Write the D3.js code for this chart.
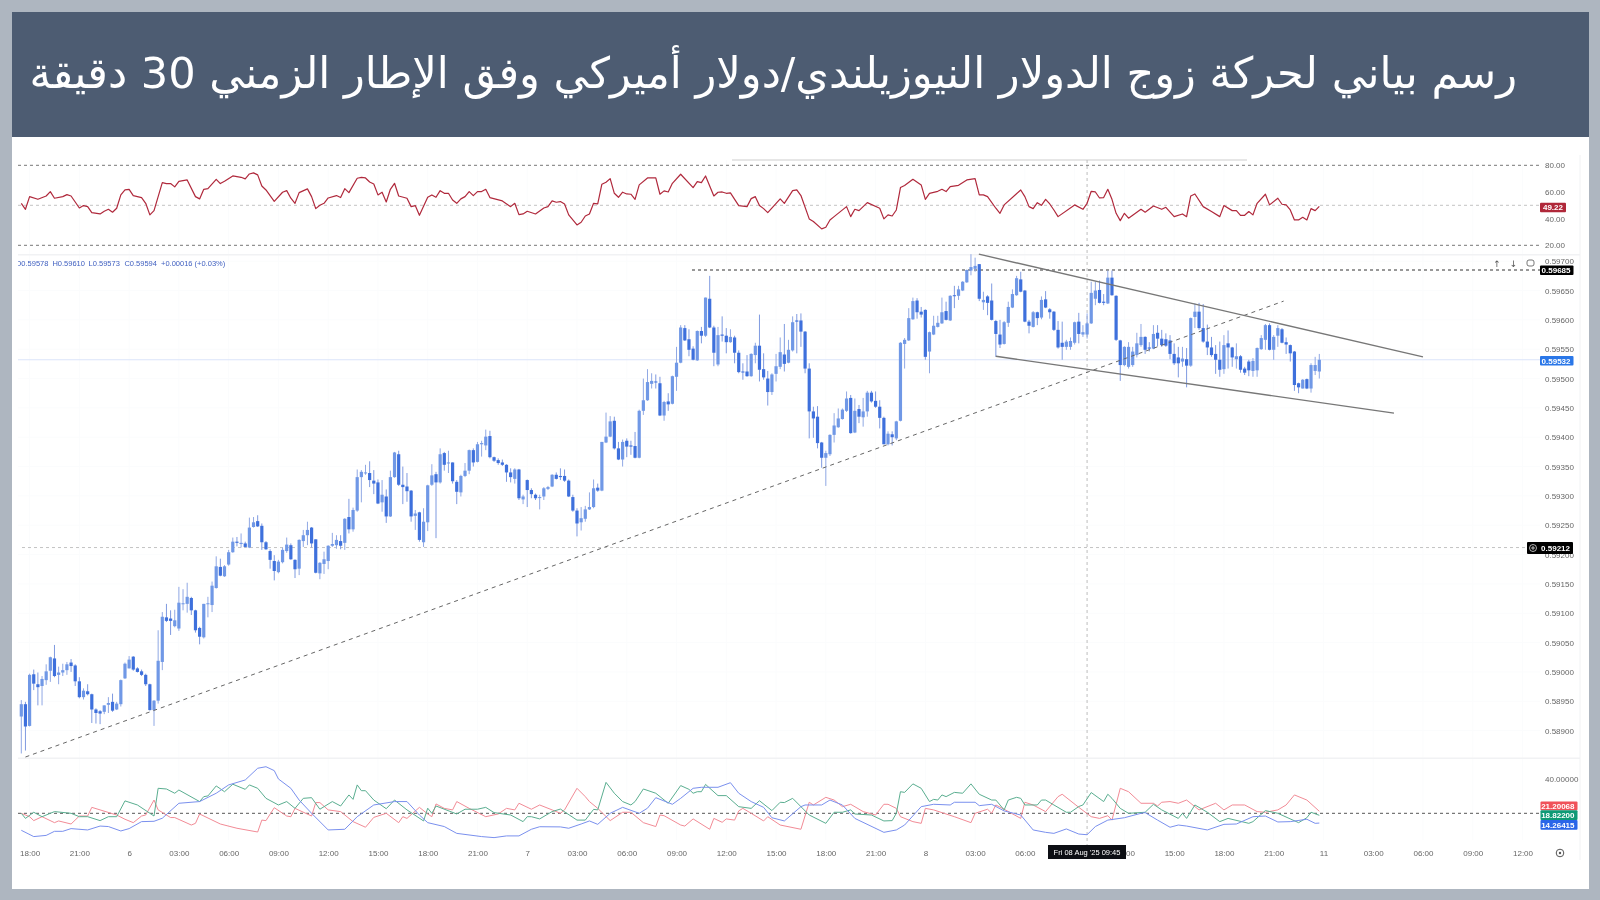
<!DOCTYPE html>
<html>
<head>
<meta charset="utf-8">
<script src="https://cdn.jsdelivr.net/npm/d3@7"></script>
<style>
  html, body { margin: 0; padding: 0; background: #aeb6c0; }
  svg { display: block; font-family: "Liberation Sans", Arial, sans-serif; filter: blur(0.35px); }
</style>
</head>
<body>
<svg id="chart" width="1600" height="900"></svg>
<script>
var titleText = "رسم بياني لحركة زوج الدولار النيوزيلندي/دولار أميركي وفق الإطار الزمني 30 دقيقة";

// 15 minute candles, prices in 1e-5 units (59578 = 0.59578)
var candleOpen = [
  58924,58945,58908,58996,58979,58976,58986,59002,59023,58995,
  58999,59003,59016,59011,58984,58957,58967,58962,58936,58933,
  58932,58944,58949,58936,58945,58989,59006,59026,59006,59001,
  58995,58979,58935,58951,59017,59093,59091,59078,59074,59116,
  59116,59126,59105,59075,59059,59116,59114,59143,59179,59163,
  59183,59204,59222,59218,59219,59212,59247,59257,59249,59221,
  59206,59189,59170,59187,59206,59216,59191,59176,59223,59233,
  59246,59226,59168,59184,59189,59215,59216,59223,59220,59264,
  59243,59275,59332,59339,59339,59326,59323,59289,59299,59265,
  59332,59371,59319,59316,59309,59266,59272,59221,59255,59319,
  59337,59323,59373,59356,59357,59324,59306,59334,59343,59378,
  59358,59388,59386,59402,59366,59361,59357,59353,59340,59329,
  59345,59294,59327,59310,59302,59297,59299,59312,59316,59336,
  59334,59334,59326,59298,59275,59255,59261,59277,59281,59314,
  59309,59391,59401,59428,59381,59362,59394,59386,59385,59365,
  59445,59463,59491,59495,59492,59437,59461,59457,59503,59527,
  59586,59567,59551,59531,59581,59573,59636,59587,59524,59575,
  59573,59562,59570,59544,59512,59512,59504,59540,59556,59516,
  59500,59477,59508,59520,59541,59527,59548,59599,59599,59580,
  59517,59444,59435,59391,59365,59371,59404,59417,59431,59445,
  59467,59408,59448,59434,59444,59476,59462,59452,59433,59388,
  59405,59398,59428,59559,59565,59601,59633,59614,59617,59546,
  59575,59588,59594,59615,59599,59642,59641,59650,59664,59684,
  59687,59695,59630,59640,59633,59598,59575,59559,59595,59621,
  59642,59669,59650,59597,59588,59613,59604,59635,59618,59614,
  59583,59561,59554,59554,59561,59597,59575,59575,59594,59636,
  59651,59631,59628,59672,59641,59565,59523,59520,59523,59540,
  59557,59571,59553,59551,59578,59568,59567,59565,59542,59536,
  59529,59533,59522,59605,59614,59586,59563,59553,59542,59532,
  59516,59560,59553,59533,59538,59517,59529,59513,59514,59550,
  59566,59591,59549,59573,59584,59562,59557,59546,59492,59483,
  59499,59483,59513,59512
];
var candleHigh = [
  58952,58949,58997,59004,58999,58993,59013,59026,59046,59009,
  59014,59017,59022,59013,58991,58972,58979,58963,58938,58935,
  58943,58957,58963,58949,58987,59016,59027,59027,59008,59004,
  58997,58980,58952,59071,59102,59116,59105,59106,59145,59141,
  59152,59128,59106,59077,59116,59128,59154,59197,59193,59182,
  59208,59229,59230,59236,59222,59263,59264,59267,59253,59223,
  59209,59199,59191,59212,59229,59219,59192,59226,59242,59256,
  59247,59226,59187,59205,59216,59237,59233,59233,59262,59295,
  59280,59345,59344,59353,59359,59344,59328,59327,59311,59343,
  59375,59377,59350,59339,59310,59276,59273,59279,59319,59354,
  59341,59381,59375,59377,59357,59327,59336,59356,59379,59381,
  59392,59394,59413,59411,59367,59364,59362,59354,59347,59347,
  59346,59302,59328,59313,59304,59302,59315,59317,59337,59340,
  59347,59345,59328,59302,59279,59281,59283,59306,59328,59321,
  59392,59442,59436,59435,59392,59396,59398,59394,59409,59447,
  59500,59516,59509,59507,59503,59462,59475,59505,59554,59591,
  59591,59584,59555,59582,59588,59638,59675,59590,59588,59606,
  59586,59584,59573,59548,59526,59540,59543,59561,59609,59543,
  59513,59509,59542,59570,59593,59566,59606,59610,59611,59581,
  59526,59452,59453,59392,59377,59405,59441,59449,59449,59478,
  59472,59466,59455,59467,59479,59479,59478,59463,59435,59410,
  59410,59428,59562,59569,59620,59638,59637,59622,59618,59580,
  59607,59607,59638,59631,59642,59658,59658,59666,59686,59712,
  59706,59695,59648,59642,59662,59600,59600,59598,59631,59652,
  59675,59682,59651,59600,59615,59614,59640,59649,59620,59615,
  59598,59597,59566,59570,59597,59612,59591,59611,59665,59665,
  59667,59644,59684,59684,59642,59566,59555,59562,59554,59578,
  59593,59572,59562,59591,59591,59583,59577,59574,59560,59554,
  59554,59552,59604,59628,59629,59627,59592,59571,59557,59563,
  59574,59582,59554,59560,59540,59520,59532,59535,59553,59574,
  59593,59594,59574,59591,59586,59570,59558,59547,59493,59499,
  59500,59526,59537,59542
];
var candleLow = [
  58861,58866,58907,58969,58943,58943,58978,58983,58991,58979,
  58993,58995,59000,58976,58955,58953,58960,58913,58912,58911,
  58928,58930,58932,58935,58941,58988,59006,59002,58999,58993,
  58976,58934,58908,58946,59003,59085,59063,59076,59070,59105,
  59101,59097,59067,59047,59057,59093,59102,59142,59163,59162,
  59181,59203,59214,59212,59212,59211,59246,59247,59208,59208,
  59176,59156,59168,59185,59203,59191,59160,59165,59213,59216,
  59212,59168,59158,59167,59175,59213,59210,59209,59208,59236,
  59239,59273,59289,59336,59315,59303,59286,59273,59254,59264,
  59331,59317,59286,59290,59256,59242,59222,59213,59240,59317,
  59228,59321,59343,59339,59321,59286,59299,59332,59337,59350,
  59357,59367,59378,59364,59358,59353,59351,59324,59323,59321,
  59293,59286,59281,59296,59293,59277,59293,59310,59315,59328,
  59327,59324,59298,59273,59231,59241,59256,59276,59279,59307,
  59308,59390,59400,59379,59361,59350,59366,59370,59364,59364,
  59438,59462,59483,59483,59436,59428,59445,59456,59479,59526,
  59564,59538,59531,59530,59560,59571,59586,59521,59521,59563,
  59543,59561,59526,59509,59498,59503,59503,59526,59495,59498,
  59454,59472,59495,59516,59512,59526,59546,59543,59554,59509,
  59398,59399,59381,59348,59317,59368,59391,59416,59430,59443,
  59406,59407,59424,59418,59435,59459,59450,59415,59388,59386,
  59386,59395,59427,59517,59564,59600,59602,59604,59532,59509,
  59574,59587,59593,59599,59598,59620,59634,59649,59663,59676,
  59682,59632,59617,59608,59599,59537,59552,59558,59588,59620,
  59641,59647,59596,59577,59587,59591,59601,59620,59602,59581,
  59551,59532,59549,59549,59558,59560,59571,59568,59593,59625,
  59628,59625,59627,59641,59564,59496,59521,59517,59520,59536,
  59554,59542,59546,59550,59555,59554,59554,59533,59523,59502,
  59520,59485,59520,59586,59583,59561,59540,59537,59508,59503,
  59508,59517,59520,59517,59510,59506,59504,59503,59503,59549,
  59549,59548,59532,59554,59560,59542,59529,59479,59475,59483,
  59482,59476,59506,59500
];
var candleClose = [
  58945,58907,58995,58980,58974,58988,59001,59025,58993,58999,
  59003,59013,59010,58984,58957,58968,58962,58936,58930,58929,
  58943,58947,58934,58946,58986,59014,59021,59004,59000,58995,
  58979,58935,58951,59019,59094,59087,59087,59088,59118,59117,
  59128,59105,59071,59060,59116,59117,59147,59180,59164,59180,
  59204,59222,59220,59220,59213,59246,59255,59248,59221,59209,
  59191,59172,59188,59208,59217,59192,59175,59225,59233,59242,
  59219,59169,59186,59192,59215,59218,59225,59215,59261,59243,
  59276,59332,59341,59340,59327,59321,59287,59302,59265,59332,
  59374,59319,59315,59308,59265,59270,59225,59256,59318,59335,
  59323,59371,59353,59357,59325,59307,59334,59343,59378,59357,
  59388,59390,59401,59366,59360,59356,59353,59340,59332,59345,
  59296,59299,59310,59303,59296,59298,59313,59315,59336,59329,
  59332,59326,59299,59275,59253,59262,59277,59281,59313,59309,
  59392,59401,59427,59381,59362,59392,59384,59384,59365,59445,
  59463,59494,59496,59494,59437,59460,59456,59504,59527,59587,
  59565,59549,59532,59581,59573,59638,59587,59544,59574,59573,
  59562,59571,59544,59511,59511,59504,59542,59556,59515,59502,
  59477,59507,59521,59545,59525,59549,59596,59597,59580,59517,
  59444,59432,59390,59365,59373,59404,59420,59432,59447,59466,
  59407,59445,59435,59444,59476,59461,59452,59433,59388,59406,
  59400,59427,59561,59566,59603,59632,59613,59609,59537,59579,
  59590,59595,59613,59600,59641,59641,59652,59665,59685,59690,
  59692,59636,59634,59629,59600,59576,59558,59596,59622,59644,
  59671,59648,59597,59590,59613,59603,59634,59621,59613,59583,
  59553,59554,59563,59564,59596,59576,59579,59594,59646,59650,
  59629,59629,59672,59642,59566,59523,59554,59554,59546,59560,
  59571,59549,59551,59576,59568,59557,59556,59542,59526,59526,
  59534,59522,59603,59614,59586,59563,59553,59540,59532,59515,
  59557,59553,59536,59538,59515,59510,59514,59530,59552,59569,
  59591,59549,59571,59586,59561,59558,59543,59489,59485,59498,
  59483,59523,59523,59532
];

// RSI, read as line vertices: bar number and value
var rsiBars = [0,1,2,4,6,7,8,10,11,12,14,15,16,17,19,20,21,22,23,24,25,26,27,29,30,31,32,34,35,36,37,38,40,42,43,44,45,47,48,49,51,53,54,55,56,57,58,59,61,63,64,65,66,67,69,70,71,72,73,74,76,77,78,79,81,82,83,84,85,86,87,88,89,90,91,93,94,95,96,98,99,100,101,102,103,104,105,106,107,108,109,110,111,112,113,116,118,119,120,121,122,
  124,126,127,128,129,130,131,132,134,135,136,137,138,139,140,141,142,143,144,145,146,147,148,149,151,153,154,155,156,157,159,162,163,164,165,167,168,169,170,171,173,175,176,177,178,179,180,183,184,186,187,188,190,191,193,194,195,196,199,200,201,202,204,207,208,209,210,211,212,213,215,217,218,219,221,222,223,224,226,228,230,231,232,233,235,236,237,241,242,243,244,245,246,247,248,249,250,
  254,256,257,258,259,260,261,262,263,264,265,266,267,270,271,273,275,276,278,280,281,282,283,285,287,289,290,292,293,294,295,296,297,298,300,301,303,304,305,306,307,308,309,310,311,312,313];
var rsiValues = [51.5,47,56.5,54.5,57,60.3,55.3,56.5,58,57,48,49.8,49,44.5,43.5,45.5,47,44.8,47.8,57.8,61.5,62,57.3,55.8,51.5,42.8,46,67,66.3,66.3,63.8,68,69,56.5,54.8,62,62.5,69.5,66.3,68,72,71,69.8,73.5,74.3,72.8,64.5,61.5,53,59.8,61,55.3,51.5,59.5,62.3,56.5,47.5,50,51.5,55.5,57.3,55.8,62.5,59.5,70.3,71,70.5,67.5,66,57.8,59.8,52.5,62,66.5,57,55.3,49,49.8,42.5,56,57.8,56,61,59,59,54,51.5,54.8,56.5,60.3,57.3,60.3,60.3,62,55.8,53.3,49,51.5,43,43.5,45.5,
  43.5,48,49,53.3,52.3,52.8,51,42.8,35.3,37.3,42,43.5,51.5,51,65.8,67.3,70,59,56,59.8,58.5,58.3,54.5,65.3,70.5,70.5,58.3,60.8,60,66.5,73.3,63.3,67.8,67,72,57,59.8,60,59,59.3,49.8,49,55,56.5,49.8,47.5,44.5,54.8,51.5,61,61.5,57.3,39.8,37.8,32.3,33.5,39,41.5,49,41.5,47,46,52,47.8,39.8,42.8,42,46.5,63.3,64.8,69.5,65.3,54.5,59,60.5,62,60.3,64,65,69,70,57.8,57.8,56.5,47.8,44,50.3,61.5,56.5,49,47.5,52,50,54.5,51,46.5,41.5,
  50.3,47,51.5,60.5,60,55.5,55.8,62,54.5,44,38.5,44,40.3,47,44.8,49.5,47,48.5,41.5,43.5,41.5,57,58.5,49,45.3,41.5,49.8,46,46,42.5,42.5,45.3,42.8,51.5,58.3,50.3,55.3,50.8,50.3,46.5,39,39,41,39,47.5,46,49.22];

// DMI lines, also read as vertices
var adxBars = [0,3,6,8,10,12,16,19,21,24,26,29,32,34,38,43,47,50,54,57,59,61,62,65,67,70,74,78,81,85,90,93,96,98,102,105,111,114,117,120,123,
  125,130,132,135,137,139,142,145,149,151,153,157,159,162,164,168,171,173,176,179,181,184,188,189,193,195,198,201,208,211,213,217,220,224,225,230,231,234,237,241,244,247,
  249,252,255,257,259,262,266,270,271,274,277,279,281,286,290,293,297,300,303,306,310,312,313];
var adxValues = [10,6.3,7,9.4,9.4,11,10.2,12.5,12.2,9.6,11,15.1,15.3,17.1,25.9,26.9,31.8,36.7,39.6,46.5,47.4,45.1,40.2,34.7,27.8,20,10.2,10.6,18,24.9,26.9,26.9,19,14.5,12.2,8.2,6.3,5.7,6.7,6.7,10.6,
  12.1,12,11.2,13.7,15.5,13.5,20,23.5,20,23,29.2,25.3,28.8,34.7,35.3,35.3,38,31.8,26.9,23.5,17.4,15.5,23.9,24.9,24.9,27.8,24.9,17,8.8,10.2,13.1,23.9,25.3,24.9,26.5,26.5,24.5,25.3,21.4,19,10.2,8.8,
  8.2,10.8,7.8,7.4,12.2,16,17.4,20,20.4,16,11.8,13.1,12.5,10.2,13.5,13.7,18,18.4,14.9,15.1,16.5,14.1,14.26];
var plusDiBars = [0,1,3,5,8,12,14,16,19,21,23,25,28,32,33,35,37,38,43,44,45,47,49,51,54,55,57,59,62,64,66,68,70,72,75,77,79,80,81,82,83,85,88,90,93,97,98,99,100,105,107,110,112,114,118,121,122,
  123,125,128,130,134,136,138,139,141,143,145,147,148,150,153,156,159,161,162,163,164,165,168,170,173,176,178,181,183,184,186,190,194,196,198,200,201,205,208,210,211,212,213,215,217,219,220,221,222,223,225,227,229,231,234,235,237,238,240,241,242,245,246,247,
  249,252,253,255,256,258,261,262,263,265,267,271,273,275,279,280,281,283,286,289,291,296,297,300,303,308,310,311,313];
var plusDiValues = [20,17,20.6,18,21,20,18,18,15.7,18,18,27.3,24.9,18.4,34.7,34.3,31.8,33.7,26.9,29.8,30.2,36.1,32.7,37.1,34.1,36.7,34.7,28.8,24.9,26.9,22.9,28.8,29.2,22.4,26.9,24.3,30.8,28.2,36.7,33.3,33.3,27.8,22.7,27.8,22,15.5,23,20,24.3,19.6,22.4,22.4,23.5,20.4,19,15.1,18,
  18,16.7,21,22.5,16,16,22.3,22,38.2,31.8,26.9,24.9,26.9,34.3,31.8,25.9,36.3,34.1,31.8,32.7,32.7,37,30.4,30.4,23.9,22.9,27.4,21.6,26.5,26.3,28.8,19,14.1,20.6,20.6,22,19.6,19,15.5,15.7,20,32.7,32.3,37.3,34.7,26.9,28.2,27.8,30.8,29.8,32.3,31.8,37.3,31.2,27.8,27.8,22,27.8,29.4,28.8,24.9,24.9,27.8,27.8,
  24.9,20.6,20.6,24,24.9,32.2,26.9,31.2,28.8,22.9,20,20.6,25.3,22,17,20,17,24.9,20.6,15.1,17,14.1,15.1,21.6,20,14.5,17.4,20.6,18.82];
var minusDiBars = [0,2,3,5,8,9,12,14,16,17,19,23,25,27,29,30,32,33,36,37,41,42,43,48,52,57,58,59,61,64,65,66,70,71,72,74,77,80,83,85,88,91,92,93,96,98,99,100,102,104,105,108,112,115,117,119,120,123,
  125,128,130,131,134,136,137,139,142,145,147,150,153,154,155,159,160,162,166,167,169,170,172,173,174,176,179,180,183,188,190,191,194,196,198,200,203,206,208,209,211,212,215,217,218,220,225,229,230,233,234,235,237,241,242,244,247,250,
  251,255,258,260,262,263,265,267,270,273,274,275,277,279,281,283,284,288,290,292,295,298,300,303,305,307,310,313];
var minusDiValues = [20,18,15.7,18,14.5,15.5,13.7,18.4,18.4,23.5,22,19,16.5,14.5,18.4,19,27.8,22,17.5,17.5,13.1,14.1,19.6,13.7,11.2,9,16,15.7,23.3,18.4,18,22.9,18.4,26.3,26.3,22,21,15.1,11.8,17.6,20,14.5,18,17,23.5,19.6,18,25.5,22.9,22,26.9,22.9,18,19.6,22.9,22,25.9,22.4,
  24.9,22,20,22,34.7,29.8,26.9,22.9,15.7,20.6,20.6,14.5,12.2,19,18.6,13.1,12.5,16.7,10.6,17,14.7,16.7,16,21.4,22.9,20,15.5,18,13.1,10.6,26.5,24.9,29.4,27.8,23.9,25.3,21,19,25.3,25.3,22.9,18,15.1,14.1,22.9,22,18,14.5,20,22.4,20,24.9,22.4,17,26.5,24.9,21,29.8,
  31.2,23.5,18,17,18.6,16,34.7,32.7,25.9,25.9,24.3,26.5,26.9,25.9,27.8,23.9,22,25.9,22,24.9,24.9,21,20.6,22,24.9,30.8,27.8,21.2];

// time axis labels, one every 12 bars starting from bar 2
var timeTickLabels = ["18:00","21:00","6","03:00","06:00","09:00","12:00","15:00","18:00","21:00","7","03:00","06:00","09:00","12:00","15:00","18:00","21:00","8","03:00","06:00","09:00","12:00","15:00","18:00","21:00","11","03:00","06:00","09:00","12:00"];
var timeTickBars = timeTickLabels.map(function(d, i) { return 2 + i * 12; });
var priceTicks = [59700,59650,59600,59550,59500,59450,59400,59350,59300,59250,59200,59150,59100,59050,59000,58950,58900];
var rsiTicks = [80,60,40,20];
var dmiTicks = [40];

// drawn trend lines, start and end as [bar, price]
var supportLine = [[1,58855],[304.4,59632]];
var wedgeTop = [[230.9,59712],[338,59537]];
var wedgeBottom = [[235,59538],[331,59441]];

var bars = candleOpen.map(function(o, i) {
  return { i: i, open: o, high: candleHigh[i], low: candleLow[i], close: candleClose[i] };
});

var svg = d3.select("#chart");

var x = d3.scaleLinear().domain([0, 314]).range([21.3, 21.3 + 314 * 4.147]);
var yPrice = d3.scaleLinear().domain([58900, 59700]).range([730.6, 261.2]);
var yRsi = d3.scaleLinear().domain([20, 80]).range([245.3, 165.3]);
var yDmi = d3.scaleLinear().domain([20, 40]).range([813.3, 779.3]);

var rightEdge = 1540;

// page frame and header
svg.append("rect").attr("x", 12).attr("y", 12).attr("width", 1577).attr("height", 877).attr("fill", "#ffffff");
svg.append("rect").attr("x", 12).attr("y", 12).attr("width", 1577).attr("height", 125).attr("fill", "#4d5c72");
svg.append("text")
  .attr("x", 1517).attr("y", 88)
  .attr("direction", "rtl")
  .attr("fill", "#ffffff")
  .style("font-family", '"DejaVu Sans", sans-serif')
  .style("font-size", "43.1px")
  .text(titleText);

svg.append("defs").append("clipPath").attr("id", "plot")
  .append("rect").attr("x", 18).attr("y", 140).attr("width", rightEdge - 18).attr("height", 720);

// faint grid
var grid = svg.append("g").attr("stroke", "#fbfcfd");
grid.selectAll(".vgrid").data(timeTickBars).enter().append("line")
  .attr("x1", function(d) { return x(d); }).attr("x2", function(d) { return x(d); })
  .attr("y1", 160).attr("y2", 840);
grid.selectAll(".hgrid").data(priceTicks).enter().append("line")
  .attr("x1", 18).attr("x2", rightEdge)
  .attr("y1", function(d) { return yPrice(d); }).attr("y2", function(d) { return yPrice(d); });

// panel separators
svg.append("rect").attr("x", 732).attr("y", 159).attr("width", 515).attr("height", 2).attr("fill", "#e6e6e6");
[254, 757.5].forEach(function(y) {
  svg.append("rect").attr("x", 18).attr("y", y).attr("width", 1562).attr("height", 1.5).attr("fill", "#f1f2f4");
});
svg.append("line").attr("x1", 1580).attr("x2", 1580).attr("y1", 155).attr("y2", 860).attr("stroke", "#f1f2f4");

function hLevel(y, x1, color, dash) {
  svg.append("line").attr("x1", x1).attr("x2", rightEdge).attr("y1", y).attr("y2", y)
    .attr("stroke", color).attr("stroke-dasharray", dash);
}

// RSI levels
hLevel(yRsi(80), 18, "#777777", "3 3");
hLevel(yRsi(50), 18, "#c4c4c4", "3 3");
hLevel(yRsi(20), 18, "#777777", "3 3");

// price levels
hLevel(yPrice(59532), 18, "#dbe4fa", null);
hLevel(yPrice(59212), 22, "#c4c4c4", "3 3");
hLevel(yPrice(59685), 692, "#333333", "3 3");

// DMI level
hLevel(yDmi(20), 18, "#555555", "3 3");

// crosshair
svg.append("line")
  .attr("x1", x(257)).attr("x2", x(257)).attr("y1", 160).attr("y2", 845)
  .attr("stroke", "#bdbdbd").attr("stroke-dasharray", "3 3");

var clipped = svg.append("g").attr("clip-path", "url(#plot)");

// candles
var candle = clipped.append("g").selectAll("g").data(bars).enter().append("g");
candle.append("line")
  .attr("x1", function(d) { return x(d.i); })
  .attr("x2", function(d) { return x(d.i); })
  .attr("y1", function(d) { return yPrice(d.high); })
  .attr("y2", function(d) { return yPrice(d.low); })
  .attr("stroke", function(d) { return d.close >= d.open ? "#90a8e4" : "#7f9ae0"; })
  .attr("stroke-width", 1);
candle.append("rect")
  .attr("x", function(d) { return x(d.i) - 1.6; })
  .attr("width", 3.2)
  .attr("y", function(d) { return yPrice(Math.max(d.open, d.close)); })
  .attr("height", function(d) { return Math.max(1, Math.abs(yPrice(d.open) - yPrice(d.close))); })
  .attr("fill", function(d) { return d.close >= d.open ? "#7098e6" : "#3e70dc"; });

// trend lines
function drawTrend(pts, color, width, dash) {
  clipped.append("line")
    .attr("x1", x(pts[0][0])).attr("y1", yPrice(pts[0][1]))
    .attr("x2", x(pts[1][0])).attr("y2", yPrice(pts[1][1]))
    .attr("stroke", color).attr("stroke-width", width).attr("stroke-dasharray", dash);
}
drawTrend(supportLine, "#666666", 1, "4 4");
drawTrend(wedgeTop, "#777777", 1.4, null);
drawTrend(wedgeBottom, "#777777", 1.4, null);

// indicator lines
function drawSeries(xs, vs, scale, color, width) {
  var line = d3.line()
    .x(function(d, i) { return x(xs[i]); })
    .y(function(d) { return scale(d); });
  clipped.append("path").datum(vs)
    .attr("d", line)
    .attr("fill", "none")
    .attr("stroke", color)
    .attr("stroke-width", width)
    .attr("stroke-linejoin", "round");
}
drawSeries(rsiBars, rsiValues, yRsi, "#b0293c", 1.2);
drawSeries(minusDiBars, minusDiValues, yDmi, "#f28b96", 1);
drawSeries(plusDiBars, plusDiValues, yDmi, "#5aae90", 1);
drawSeries(adxBars, adxValues, yDmi, "#7a90ee", 1);

// axes
function styleAxis(g) {
  g.select(".domain").remove();
  g.selectAll(".tick line").remove();
  g.selectAll("text").attr("fill", "#666666").style("font-size", "8px");
}
svg.append("g").attr("transform", "translate(1536,0)")
  .call(d3.axisRight(yRsi).tickValues(rsiTicks).tickFormat(d3.format(".2f")))
  .call(styleAxis);
svg.append("g").attr("transform", "translate(1536,0)")
  .call(d3.axisRight(yPrice).tickValues(priceTicks).tickFormat(function(d) { return d3.format(".5f")(d / 1e5); }))
  .call(styleAxis);
svg.append("g").attr("transform", "translate(1536,0)")
  .call(d3.axisRight(yDmi).tickValues(dmiTicks).tickFormat(d3.format(".5f")))
  .call(styleAxis);
svg.append("g").attr("transform", "translate(0,841)")
  .call(d3.axisBottom(x).tickValues(timeTickBars).tickFormat(function(d, i) { return timeTickLabels[i]; }))
  .call(styleAxis);

// value boxes on the right edge
function valueBox(x0, y0, w, h, fill, label) {
  svg.append("rect").attr("x", x0).attr("y", y0).attr("width", w).attr("height", h).attr("rx", 1).attr("fill", fill);
  svg.append("text").attr("x", x0 + w - 3).attr("y", y0 + h / 2 + 3)
    .attr("text-anchor", "end").attr("fill", "#ffffff")
    .style("font-size", "8px").style("font-weight", "bold").text(label);
}
valueBox(1540, 202.7, 26, 9.5, "#b0283a", "49.22");
valueBox(1540, 265.5, 33.5, 9.5, "#000000", "0.59685");
valueBox(1540, 356, 33.5, 9.5, "#2a77e8", "0.59532");
valueBox(1527, 542, 46, 12, "#000000", "0.59212");
valueBox(1540.5, 801.5, 37, 8.8, "#f0525a", "21.20068");
valueBox(1540.5, 810.3, 37, 9.7, "#0f9a75", "18.82200");
valueBox(1540.5, 820, 37, 9.7, "#2a66e8", "14.26415");

// plus marker inside the 0.59212 box
svg.append("circle").attr("cx", 1533).attr("cy", 548).attr("r", 3.5).attr("fill", "none").attr("stroke", "#ffffff").attr("stroke-width", 0.7);
svg.append("path").attr("d", "M1531,548H1535M1533,546V550").attr("stroke", "#ffffff").attr("stroke-width", 0.7);

// OHLC readout
var ohlcParts = ["O0.59578", "H0.59610", "L0.59573", "C0.59594", "+0.00016 (+0.03%)"];
var ohlcX = [15.5, 52.4, 88.6, 124.4, 161];
svg.selectAll(".ohlc").data(ohlcParts).enter().append("text")
  .attr("class", "ohlc")
  .attr("x", function(d, i) { return ohlcX[i]; })
  .attr("y", 266)
  .attr("fill", "#3f5fc0")
  .style("font-size", "7.5px")
  .text(function(d) { return d; });
svg.append("rect").attr("x", 12).attr("y", 258).attr("width", 6).attr("height", 12).attr("fill", "#ffffff");

// toolbar arrows
[["↑", 1497], ["↓", 1513.5]].forEach(function(a) {
  svg.append("text").attr("x", a[1]).attr("y", 267).attr("text-anchor", "middle")
    .attr("fill", "#555555").style("font-size", "9px").style("font-family", '"DejaVu Sans"').text(a[0]);
});
svg.append("rect").attr("x", 1527).attr("y", 260).attr("width", 7).attr("height", 6).attr("rx", 2)
  .attr("fill", "none").attr("stroke", "#555555").attr("stroke-width", 0.8);

// crosshair date label
svg.append("rect").attr("x", 1048).attr("y", 845).attr("width", 78).attr("height", 14).attr("fill", "#0d0f14");
svg.append("text").attr("x", 1087).attr("y", 855).attr("text-anchor", "middle")
  .attr("fill", "#ffffff").style("font-size", "7.5px").text("Fri 08 Aug '25   09:45");

// settings icon
svg.append("circle").attr("cx", 1560).attr("cy", 853).attr("r", 3.8).attr("fill", "none").attr("stroke", "#555555");
svg.append("circle").attr("cx", 1560).attr("cy", 853).attr("r", 1.2).attr("fill", "#555555");
</script>
</body>
</html>
